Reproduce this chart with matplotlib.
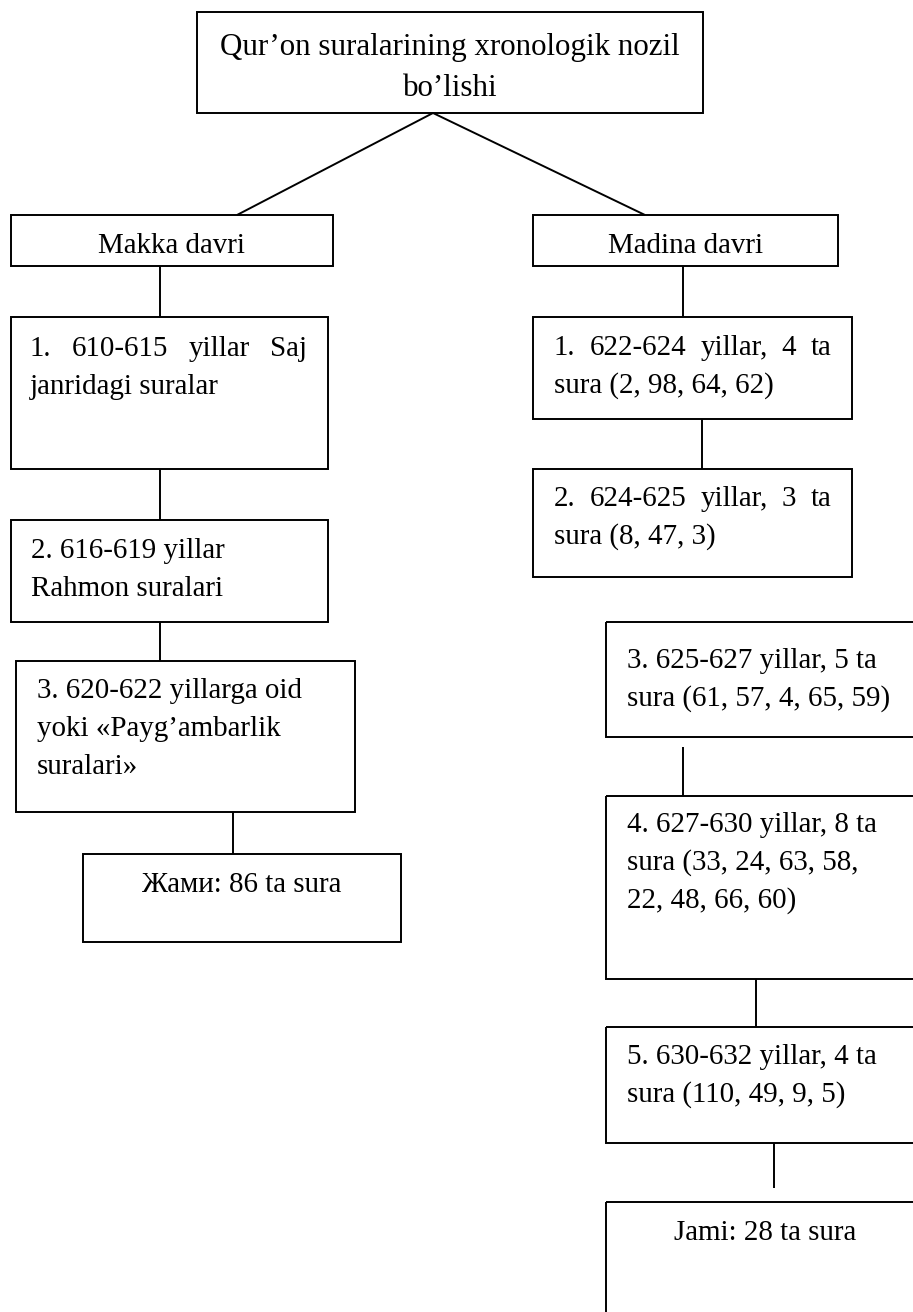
import matplotlib
matplotlib.use("Agg")
import matplotlib.pyplot as plt
from matplotlib.patches import Rectangle

plt.rcParams["font.family"] = ["Liberation Serif", "DejaVu Serif"]

W, H = 913, 1312
BODY = 29 * 72 / 100     # px -> pt at dpi 100
TITLE = 31 * 72 / 100
LINE_GAP = 38

# ── texts ────────────────────────────────────────────────────────────────────
title_lines = ["Qur’on suralarining xronologik nozil", "bo’lishi"]
left_head = "Makka davri"
right_head = "Madina davri"
left_steps = [
    ["1.  610-615  yillar  Saj", "janridagi suralar"],
    ["2. 616-619 yillar", "Rahmon suralari"],
    ["3. 620-622 yillarga oid", "yoki «Payg’ambarlik", "suralari»"],
]
left_total = "Жами: 86 ta sura"
right_steps = [
    ["1.  622-624  yillar,  4  ta", "sura (2, 98, 64, 62)"],
    ["2.  624-625  yillar,  3  ta", "sura (8, 47, 3)"],
    ["3. 625-627 yillar, 5 ta", "sura (61, 57, 4, 65, 59)"],
    ["4. 627-630 yillar, 8 ta", "sura (33, 24, 63, 58,", "22, 48, 66, 60)"],
    ["5. 630-632 yillar, 4 ta", "sura (110, 49, 9, 5)"],
]
right_total = "Jami: 28 ta sura"

# ── layout (pixels: x0, y0, x1, y1) ──────────────────────────────────────────
title_box = (197, 12, 703, 113)
title_baselines = [55, 96]
left_head_box = (11, 215, 333, 266)
right_head_box = (533, 215, 838, 266)
left_boxes = [(11, 317, 328, 469), (11, 520, 328, 622), (16, 661, 355, 812)]
left_total_box = (83, 854, 401, 942)
right_boxes = [(533, 317, 852, 419), (533, 469, 852, 577), (606, 622, 930, 737),
               (606, 796, 930, 979), (606, 1027, 930, 1143)]
right_total_box = (606, 1202, 930, 1330)

left_text = [(30, 356), (31, 558), (37, 698)]
right_text = [(554, 355), (554, 506), (627, 668), (627, 832), (627, 1064)]
justify_right = {("L", 0): 307, ("R", 0): 831, ("R", 1): 831}

connectors = [
    (160, 266, 160, 317), (160, 469, 160, 520), (160, 622, 160, 661),
    (233, 812, 233, 854),
    (683, 266, 683, 317), (702, 419, 702, 469), (683, 747, 683, 796),
    (756, 979, 756, 1027), (774, 1143, 774, 1188),
]
apex = (433, 113)
branch_feet = [(237, 215), (645, 215)]

# ── draw ─────────────────────────────────────────────────────────────────────
fig = plt.figure(figsize=(W / 100, H / 100), dpi=100)
ax = fig.add_axes([0, 0, 1, 1])
ax.set_xlim(0, W)
ax.set_ylim(H, 0)
ax.axis("off")

LW = 1.4


def box(b):
    x0, y0, x1, y1 = b
    ax.add_patch(Rectangle((x0, y0), x1 - x0, y1 - y0, fill=False,
                           edgecolor="black", linewidth=LW))


def line(x0, y0, x1, y1):
    ax.plot([x0, x1], [y0, y1], color="black", linewidth=LW,
            solid_capstyle="butt")


renderer = fig.canvas.get_renderer()


def justified(words_line, x0, x1, y):
    # spread words so the line fills x0..x1, like justified Word text
    words = words_line.split()
    arts = [ax.text(x0, y, w, fontsize=BODY, va="baseline") for w in words]
    widths = [a.get_window_extent(renderer).width for a in arts]
    gap = (x1 - x0 - sum(widths)) / (len(words) - 1)
    x = x0
    for a, w in zip(arts, widths):
        a.set_x(x)
        x += w + gap


def para(lines, x, y, key):
    for i, s in enumerate(lines):
        yy = y + i * LINE_GAP
        if i == 0 and key in justify_right:
            justified(s, x, justify_right[key], yy)
        else:
            ax.text(x, yy, s, fontsize=BODY, va="baseline")


box(title_box)
for s, yb in zip(title_lines, title_baselines):
    ax.text((title_box[0] + title_box[2]) / 2, yb, s,
            fontsize=TITLE, ha="center", va="baseline")

for fx, fy in branch_feet:
    line(apex[0], apex[1], fx, fy)

box(left_head_box)
ax.text((left_head_box[0] + left_head_box[2]) / 2, 253, left_head,
        fontsize=BODY, ha="center", va="baseline")
box(right_head_box)
ax.text((right_head_box[0] + right_head_box[2]) / 2, 253, right_head,
        fontsize=BODY, ha="center", va="baseline")

for i, (b, lines, (tx, ty)) in enumerate(zip(left_boxes, left_steps, left_text)):
    box(b)
    para(lines, tx, ty, ("L", i))
for i, (b, lines, (tx, ty)) in enumerate(zip(right_boxes, right_steps, right_text)):
    box(b)
    para(lines, tx, ty, ("R", i))

box(left_total_box)
ax.text(242, 892, left_total, fontsize=BODY, ha="center", va="baseline")
box(right_total_box)
ax.text(765, 1240, right_total, fontsize=BODY, ha="center", va="baseline")

for c in connectors:
    line(*c)

fig.savefig("out.png", dpi=100, facecolor="white")
